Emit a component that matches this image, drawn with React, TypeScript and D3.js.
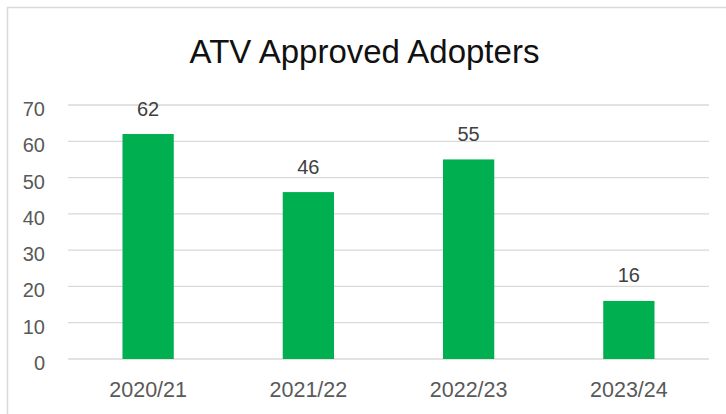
import * as d3 from "d3";
import { useEffect, useRef } from "react";

const categories = ["2020/21", "2021/22", "2022/23", "2023/24"];
const adopters = [62, 46, 55, 16];
const yTicks = [0, 10, 20, 30, 40, 50, 60, 70];

const title = "ATV Approved Adopters";

const AdoptersChart = () => {
  const ref = useRef<SVGSVGElement | null>(null);

  useEffect(() => {
    const svg = d3.select(ref.current);
    svg.selectAll("*").remove();

    const width = 726;
    const height = 414;
    const font = "'Liberation Sans', Arial, sans-serif";
    const margin = { top: 105, right: 17, bottom: 55, left: 68 };

    // chart area border (goes off the right and bottom edges)
    svg
      .append("rect")
      .attr("x", 7.5)
      .attr("y", 7.5)
      .attr("width", width + 20)
      .attr("height", height + 20)
      .attr("fill", "white")
      .attr("stroke", "#d9d9d9")
      .attr("stroke-width", 1.5);

    const data = categories.map((c, i) => ({ label: c, value: adopters[i] }));

    // Scale for the x-axis
    const xScale = d3
      .scaleBand()
      .domain(categories)
      .range([margin.left, width - margin.right])
      .paddingInner(0.68)
      .paddingOuter(0.34);

    // Scale for the y-axis
    const yScale = d3
      .scaleLinear()
      .domain([0, 70])
      .range([height - margin.bottom, margin.top]);

    // gridlines
    svg
      .append("g")
      .selectAll("line")
      .data(yTicks)
      .enter()
      .append("line")
      .attr("x1", margin.left)
      .attr("x2", width - margin.right)
      .attr("y1", (d) => yScale(d))
      .attr("y2", (d) => yScale(d))
      .attr("stroke", "#d9d9d9")
      .attr("stroke-width", 1.3);

    // y tick labels
    svg
      .append("g")
      .selectAll("text")
      .data(yTicks)
      .enter()
      .append("text")
      .attr("x", 45)
      .attr("y", (d) => yScale(d) + 11)
      .attr("text-anchor", "end")
      .style("font-family", font)
      .style("font-size", "20px")
      .style("fill", "#595959")
      .text((d) => d);

    // bars
    svg
      .append("g")
      .selectAll("rect")
      .data(data)
      .enter()
      .append("rect")
      .attr("x", (d) => xScale(d.label) ?? 0)
      .attr("y", (d) => yScale(d.value))
      .attr("width", xScale.bandwidth())
      .attr("height", (d) => yScale(0) - yScale(d.value))
      .attr("fill", "#00b050");

    // data labels
    svg
      .append("g")
      .selectAll("text")
      .data(data)
      .enter()
      .append("text")
      .attr("x", (d) => (xScale(d.label) ?? 0) + xScale.bandwidth() / 2)
      .attr("y", (d) => yScale(d.value) - 18.5)
      .attr("text-anchor", "middle")
      .style("font-family", font)
      .style("font-size", "20px")
      .style("fill", "#404040")
      .text((d) => d.value);

    // category labels
    svg
      .append("g")
      .selectAll("text")
      .data(categories)
      .enter()
      .append("text")
      .attr("x", (d) => (xScale(d) ?? 0) + xScale.bandwidth() / 2)
      .attr("y", 397)
      .attr("text-anchor", "middle")
      .style("font-family", font)
      .style("font-size", "21.5px")
      .style("fill", "#595959")
      .text((d) => d);

    // title
    svg
      .append("text")
      .attr("x", 364.5)
      .attr("y", 62.5)
      .attr("text-anchor", "middle")
      .style("font-family", font)
      .style("font-size", "33px")
      .style("fill", "#111")
      .text(title);
  }, []);

  return (
    <svg
      ref={ref}
      width={726}
      height={414}
      style={{ position: "absolute", left: 0, top: 0 }}
    ></svg>
  );
};

export default function App() {
  return <AdoptersChart />;
}
